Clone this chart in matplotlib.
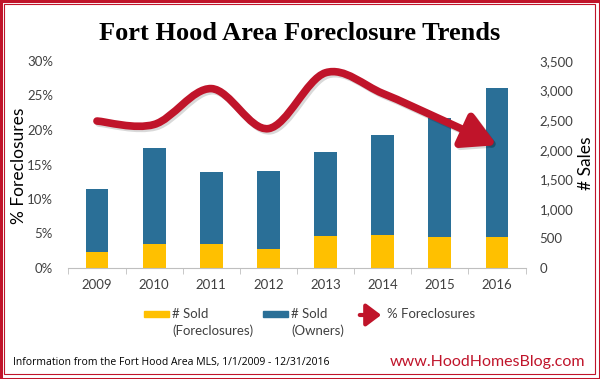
import matplotlib
matplotlib.use("Agg")
import matplotlib.pyplot as plt
import numpy as np
from matplotlib.path import Path
from matplotlib.patches import FancyArrowPatch, Rectangle
from matplotlib.ticker import FuncFormatter
import matplotlib.patheffects as pe

years = ["2009", "2010", "2011", "2012", "2013", "2014", "2015", "2016"]
sold_foreclosures = [271, 411, 411, 316, 547, 564, 525, 525]
sold_owners = [1060, 1614, 1208, 1330, 1421, 1686, 2019, 2515]
pct_foreclosures = [21.3, 20.8, 26.0, 20.2, 28.3, 25.3, 21.6, 17.8]
pct_ticks = [0, 5, 10, 15, 20, 25, 30]
sales_ticks = [0, 500, 1000, 1500, 2000, 2500, 3000, 3500]

YELLOW = "#FFC000"
BLUE = "#2A6F97"
RED = "#C0142A"
GRAY = "#404040"
FONT = ["Lato", "DejaVu Sans"]

W, H = 600, 379
fig = plt.figure(figsize=(6.0, 3.79), dpi=100)
fig.patch.set_facecolor("white")

def fx(x):
    return x / W

def fy(y):
    return 1 - y / H

left, right, top, bottom = 68.4, 525.6, 61, 268
ax = fig.add_axes([fx(left), fy(bottom), fx(right - left), (bottom - top) / H])
ax2 = ax.twinx()

x = np.arange(len(years))
bw = 0.4
ax2.bar(x, sold_foreclosures, bw, color=YELLOW, zorder=2)
ax2.bar(x, sold_owners, bw, bottom=sold_foreclosures, color=BLUE, zorder=2)
ax2.set_ylim(0, 3500)
ax2.set_yticks(sales_ticks)
ax2.yaxis.set_major_formatter(FuncFormatter(lambda v, p: f"{int(v):,}"))

ax.set_ylim(0, 30)
ax.set_yticks(pct_ticks)
ax.yaxis.set_major_formatter(FuncFormatter(lambda v, p: f"{int(v)}%"))
ax.set_xlim(-0.5, len(years) - 0.5)
ax.set_xticks(x)
ax.set_xticklabels(years)
ax.set_xticks(np.arange(-0.5, len(years), 1.0), minor=True)

ax.set_zorder(ax2.get_zorder() + 1)
ax.patch.set_visible(False)

for a in (ax, ax2):
    for s in ("top", "left", "right"):
        a.spines[s].set_visible(False)
    a.spines["bottom"].set_color("#BFBFBF")
ax2.spines["bottom"].set_visible(False)

ax.tick_params(axis="y", length=0, pad=11, labelsize=9.5, labelcolor=GRAY)
ax2.tick_params(axis="y", length=0, pad=10, labelsize=9.5, labelcolor=GRAY)
ax.tick_params(axis="x", which="major", length=0, pad=8, labelsize=9.5, labelcolor=GRAY)
ax.tick_params(axis="x", which="minor", length=4, color="#BFBFBF")
for lab in ax.get_yticklabels() + ax2.get_yticklabels() + ax.get_xticklabels():
    lab.set_fontfamily(FONT)

plot_w = right - left
plot_h = bottom - top
ax.set_ylabel("% Foreclosures", fontsize=12.5, color="black", family=FONT)
ax.yaxis.set_label_coords((27 - left) / plot_w, (bottom - 166) / plot_h)
ax2.set_ylabel("# Sales", fontsize=12.5, color="black", family=FONT)
ax2.yaxis.set_label_coords((578 - left) / plot_w, (bottom - 163) / plot_h)

# smooth curve (Catmull-Rom -> cubic Bezier) through the percent points
pts = np.column_stack([x.astype(float), np.array(pct_foreclosures, float)])
verts = [tuple(pts[0])]
codes = [Path.MOVETO]
n = len(pts)
for i in range(n - 1):
    p0 = pts[max(i - 1, 0)]
    p1 = pts[i]
    p2 = pts[i + 1]
    p3 = pts[min(i + 2, n - 1)]
    c1 = p1 + (p2 - p0) / 6.0
    c2 = p2 - (p3 - p1) / 6.0
    verts += [tuple(c1), tuple(c2), tuple(p2)]
    codes += [Path.CURVE4] * 3
path = Path(verts, codes)
arrow = FancyArrowPatch(path=path, arrowstyle="-|>,head_length=1.0,head_width=0.55",
                        mutation_scale=20, lw=5.5, color=RED, capstyle="round",
                        joinstyle="round", transform=ax.transData, zorder=5)
arrow.set_path_effects([pe.SimpleLineShadow(offset=(1.5, -1.5), alpha=0.15), pe.Normal()])
ax.add_patch(arrow)

# title
fig.text(0.5, fy(33), "Fort Hood Area Foreclosure Trends", ha="center", va="center",
         fontsize=19, fontweight="bold", family="Liberation Serif", color="black")

# legend (manual)
def legend_rect(x0, x1, color):
    fig.add_artist(Rectangle((fx(x0), fy(317)), fx(x1 - x0), 6 / H, color=color,
                             transform=fig.transFigure))

legend_rect(144, 169, YELLOW)
legend_rect(263, 288, BLUE)
fig.text(fx(172), fy(314), "# Sold", ha="left", va="center", fontsize=9.5, family=FONT, color=GRAY)
fig.text(fx(172), fy(331), "(Foreclosures)", ha="left", va="center", fontsize=9.5, family=FONT, color=GRAY)
fig.text(fx(291), fy(314), "# Sold", ha="left", va="center", fontsize=9.5, family=FONT, color=GRAY)
fig.text(fx(291), fy(331), "(Owners)", ha="left", va="center", fontsize=9.5, family=FONT, color=GRAY)
fig.add_artist(FancyArrowPatch((fx(357), fy(315)), (fx(384), fy(315)),
                               arrowstyle="-|>,head_length=0.6,head_width=0.45",
                               mutation_scale=15, lw=3, color=RED, transform=fig.transFigure))
fig.text(fx(387), fy(314), "% Foreclosures", ha="left", va="center", fontsize=9.5, family=FONT, color=GRAY)

# footer
fig.text(fx(13), fy(362), "Information from the Fort Hood Area MLS, 1/1/2009 - 12/31/2016",
         ha="left", va="center", fontsize=7.5, family=["Open Sans", "DejaVu Sans"], color="black")
fig.text(fx(585), fy(362), "www.HoodHomesBlog.com", ha="right", va="center",
         fontsize=11.5, family=FONT, color=RED)

# border
fig.add_artist(Rectangle((0.5 / W, 0.5 / H), 1 - 1 / W, 1 - 1 / H, fill=False,
                         ec=RED, lw=2.2, transform=fig.transFigure))
fig.add_artist(Rectangle((4 / W, 5 / H), 1 - 9 / W, 1 - 9 / H, fill=False,
                         ec=RED, lw=0.8, transform=fig.transFigure))

fig.savefig("out.png", dpi=100)
